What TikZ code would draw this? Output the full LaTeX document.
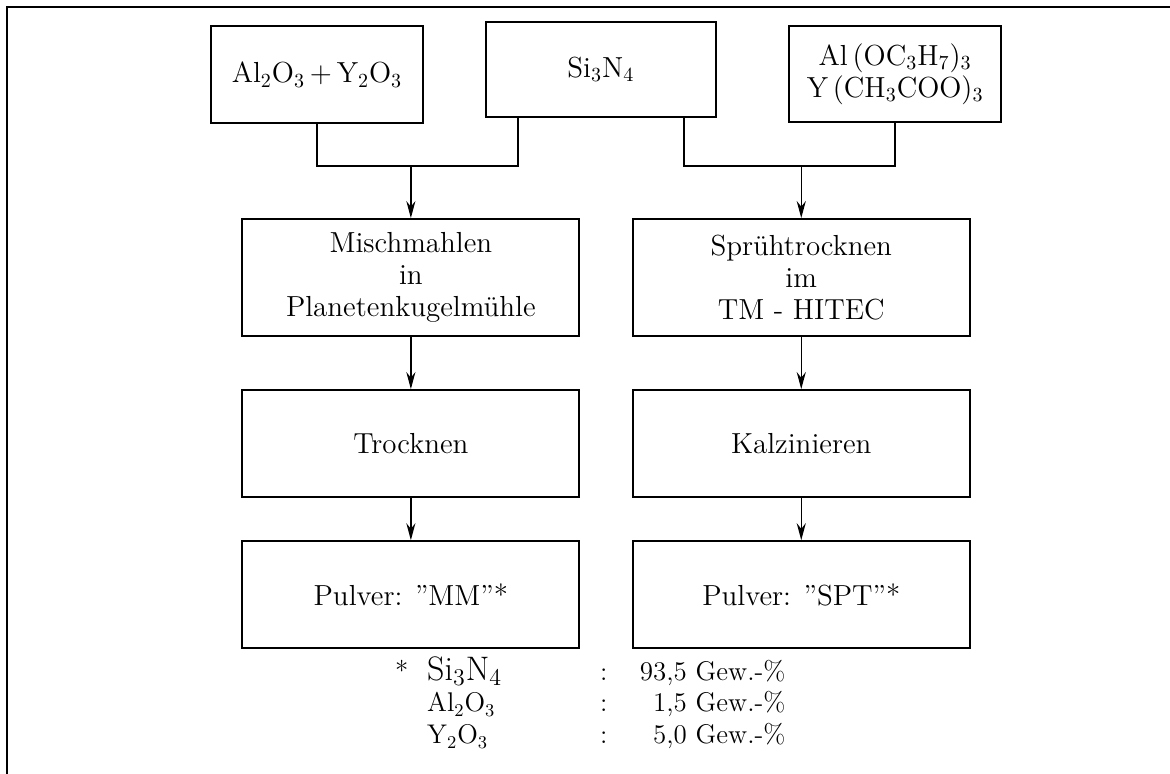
\documentclass[tikz,border=0pt]{standalone}
\usepackage{amsmath}
\usepackage{tikz}
\usetikzlibrary{positioning}
\usetikzlibrary{arrows.meta}

\begin{document}
\begin{tikzpicture}[
    kasten/.style={rectangle, draw=black, line width=1pt, align=center,
    minimum width=5.92cm, minimum height=1.88cm, inner sep=1mm,
    font=\fontsize{14.5}{16}\selectfont},
    linie/.style={line width=0.7pt},
    pfeil/.style={line width=0.7pt, -{Stealth[length=3mm,width=1.6mm,inset=1mm]}},
    legende/.style={inner sep=0pt, font=\fontsize{13.5}{16}\selectfont}
]
\useasboundingbox (0,0) rectangle (20.56,-13.60);

% Rahmen (nur oben und links)
\draw[line width=1pt] (20.56,-0.12) -- (0.12,-0.12) -- (0.12,-13.60);

% Ausgangsstoffe
\node[kasten, minimum width=3.73cm, minimum height=1.70cm] (oxide) at (5.57,-1.31)
    {Al$_2$O$_3$\,+\,Y$_2$O$_3$};
\node[kasten, minimum width=4.04cm, minimum height=1.67cm] (nitrid) at (10.56,-1.22)
    {Si$_3$N$_4$};
\node[kasten, minimum width=3.73cm, minimum height=1.69cm] (salze) at (15.73,-1.30)
    {Al\,(OC$_3$H$_7$)$_3$\\Y\,(CH$_3$COO)$_3$};

% linker Weg: Mischmahlen
\node[kasten, minimum height=2.06cm] (mahlen) at (7.22,-4.88)
    {Mischmahlen\\in\\Planetenkugelm\"uhle};
\node[kasten] (trocknen) [below=0.91cm of mahlen] {Trocknen};
\node[kasten] (pulvermm) [below=0.74cm of trocknen] {Pulver: ''MM''*};

% rechter Weg: Spruehtrocknen
\node[kasten, minimum height=2.06cm] (spruehen) at (14.08,-4.88)
    {Spr\"uhtrocknen\\im\\TM - HITEC};
\node[kasten] (kalzinieren) [below=0.91cm of spruehen] {Kalzinieren};
\node[kasten] (pulverspt) [below=0.74cm of kalzinieren] {Pulver: ''SPT''*};

% Zusammenfuehrung
\coordinate (knotL) at (7.22,-2.92);
\coordinate (knotR) at (14.08,-2.92);
\draw[linie] (oxide.south) |- (knotL) -| ([xshift=-1.46cm]nitrid.south);
\draw[linie] ([xshift=1.46cm]nitrid.south) |- (knotR) -| (salze.south);

\draw[pfeil] (knotL) -- (mahlen);
\draw[pfeil] (mahlen) -- (trocknen);
\draw[pfeil] (trocknen) -- (pulvermm);
\draw[pfeil] (knotR) -- (spruehen);
\draw[pfeil] (spruehen) -- (kalzinieren);
\draw[pfeil] (kalzinieren) -- (pulverspt);

% Zusammensetzung
\node[legende, anchor=base] (stern) at (7.06,-11.95) {*};
\node[legende, anchor=base west, font=\fontsize{17}{20}\selectfont] (si) at (7.50,-11.95) {Si$_3$N$_4$};
\node[legende, anchor=base west] (al) at (7.50,-12.51) {Al$_2$O$_3$};
\node[legende, anchor=base west] (y) at (7.50,-13.07) {Y$_2$O$_3$};
\node[legende, anchor=base] (dp1) at (10.61,-11.95) {:};
\node[legende, anchor=base] (dp2) at (10.61,-12.51) {:};
\node[legende, anchor=base] (dp3) at (10.61,-13.07) {:};
\node[legende, anchor=base east] (w1) at (13.81,-11.95) {93,5 Gew.-\%};
\node[legende, anchor=base east] (w2) at (13.81,-12.51) {1,5 Gew.-\%};
\node[legende, anchor=base east] (w3) at (13.81,-13.07) {5,0 Gew.-\%};
\end{tikzpicture}
\end{document}
